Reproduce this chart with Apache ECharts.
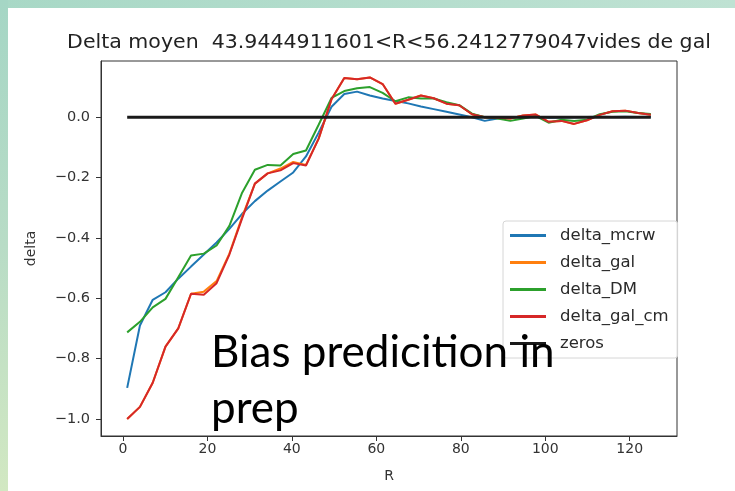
<!DOCTYPE html>
<html><head><meta charset="utf-8">
<script src="https://cdn.jsdelivr.net/npm/echarts@6/dist/echarts.min.js"></script>
<style>html,body{margin:0;padding:0;background:#fff}#c{width:735px;height:491px}</style>
</head><body><div id="c"></div>
<script>
const R = [1.00,4.02,7.05,10.07,13.10,16.12,19.15,22.17,25.20,28.22,31.24,34.27,37.29,40.32,43.34,46.37,49.39,52.41,55.44,58.46,61.49,64.51,67.54,70.56,73.59,76.61,79.63,82.66,85.68,88.71,91.73,94.76,97.78,100.80,103.83,106.85,109.88,112.90,115.93,118.95,121.98,125.00];
const deltaMcrw = [-0.897,-0.69,-0.605,-0.58,-0.535,-0.495,-0.455,-0.415,-0.37,-0.32,-0.278,-0.243,-0.213,-0.183,-0.13,-0.05,0.035,0.077,0.085,0.072,0.062,0.054,0.046,0.036,0.027,0.018,0.009,0.0,-0.012,-0.004,0.001,0.0,0.002,-0.002,-0.001,0.0,0.001,0.002,0.001,0.002,0.001,0.002];
const deltaGal = [-1.0,-0.96,-0.88,-0.76,-0.70,-0.585,-0.578,-0.543,-0.452,-0.33,-0.22,-0.186,-0.17,-0.148,-0.158,-0.07,0.06,0.13,0.126,0.132,0.11,0.045,0.058,0.072,0.063,0.045,0.04,0.01,0.0,-0.002,-0.004,0.006,0.009,-0.015,-0.012,-0.022,-0.01,0.008,0.02,0.022,0.014,0.008];
const deltaDM = [-0.713,-0.678,-0.63,-0.602,-0.53,-0.458,-0.452,-0.425,-0.36,-0.25,-0.174,-0.158,-0.16,-0.122,-0.11,-0.024,0.064,0.087,0.096,0.10,0.081,0.053,0.066,0.062,0.062,0.05,0.04,0.012,0.0,-0.004,-0.012,-0.004,0.004,-0.018,-0.008,-0.012,-0.008,0.01,0.018,0.02,0.014,0.011];
const deltaGalCm = [-1.0,-0.96,-0.88,-0.76,-0.70,-0.585,-0.588,-0.55,-0.455,-0.335,-0.22,-0.186,-0.176,-0.152,-0.16,-0.07,0.06,0.13,0.126,0.132,0.11,0.045,0.058,0.072,0.063,0.045,0.04,0.01,0.0,-0.002,-0.004,0.006,0.009,-0.015,-0.012,-0.022,-0.01,0.008,0.02,0.022,0.014,0.008];
const zeros = R.map(() => 0);
const xTicks = [0,20,40,60,80,100,120];
const yTicks = [-1.0,-0.8,-0.6,-0.4,-0.2,0.0];
const names = ['delta_mcrw','delta_gal','delta_DM','delta_gal_cm','zeros'];
const colors = ['#1f77b4','#ff7f0e','#2ca02c','#d62728','#1a1a1a'];
const titleText = 'Delta moyen  43.9444911601<R<56.2412779047vides de gal';

const pairs = arr => R.map((r, i) => [r, arr[i]]);
const seriesData = [deltaMcrw, deltaGal, deltaDM, deltaGalCm, zeros];
const font = 'DejaVu Sans';
const chart = echarts.init(document.getElementById('c'), null, {renderer: 'canvas'});
chart.setOption({
  backgroundColor: '#ffffff',
  animation: false,
  grid: {left: 101, right: 58, top: 61, bottom: 55, show: true, borderColor: '#333', borderWidth: 1, backgroundColor: 'transparent'},
  xAxis: {
    type: 'value', min: -5.2, max: 131.2,
    splitLine: {show: false},
    axisLine: {show: true, onZero: false, lineStyle: {color: '#333', width: 1}},
    axisTick: {show: true, customValues: xTicks, length: 5, lineStyle: {color: '#333'}},
    axisLabel: {customValues: xTicks, fontSize: 14, color: '#333', fontFamily: font, margin: 6},
    name: 'R', nameLocation: 'middle', nameGap: 33,
    nameTextStyle: {fontSize: 14, color: '#333', fontFamily: font}
  },
  yAxis: {
    type: 'value', min: -1.0565, max: 0.1865,
    splitLine: {show: false},
    axisLine: {show: true, onZero: false, lineStyle: {color: '#333', width: 1}},
    axisTick: {show: true, customValues: yTicks, length: 5, lineStyle: {color: '#333'}},
    axisLabel: {customValues: yTicks, fontSize: 14.5, color: '#333', fontFamily: font, margin: 11,
      formatter: v => v.toFixed(1).replace('-', '\u2212')},
    name: 'delta', nameLocation: 'middle', nameGap: 63,
    nameTextStyle: {fontSize: 14, color: '#333', fontFamily: font}
  },
  legend: {
    data: names, orient: 'vertical', left: 503, top: 221,
    icon: 'rect', itemWidth: 36, itemHeight: 3, itemGap: 10,
    padding: [6, 9, 6, 7],
    backgroundColor: 'rgba(255,255,255,0.85)', borderColor: '#d6d6d6', borderWidth: 1, borderRadius: 3,
    textStyle: {fontSize: 16.5, color: '#2a2a2a', fontFamily: font, lineHeight: 17, padding: [0, 0, 0, 9]}
  },
  series: names.map((n, k) => ({
    name: n, type: 'line', data: pairs(seriesData[k]), symbol: 'none',
    lineStyle: {color: colors[k], width: k === 4 ? 3 : 2}, itemStyle: {color: colors[k]},
    z: 2 + k
  })),
  graphic: [
    {type: 'rect', shape: {x: 0, y: 0, width: 735, height: 8}, z: -10,
      style: {fill: new echarts.graphic.LinearGradient(0, 0, 1, 0, [{offset: 0, color: '#a8d8c6'}, {offset: 1, color: '#bfe2d3'}])}},
    {type: 'rect', shape: {x: 0, y: 0, width: 8, height: 491}, z: -10,
      style: {fill: new echarts.graphic.LinearGradient(0, 0, 0, 1, [{offset: 0, color: '#a5d6c5'}, {offset: 0.5, color: '#b8dcc6'}, {offset: 1, color: '#d2e8c2'}])}},
    {type: 'text', x: 389, y: 43, z: 50, scaleX: 1.08,
      style: {text: titleText, font: '19px "DejaVu Sans"', fill: '#222', textAlign: 'center', textVerticalAlign: 'middle'}},
    {type: 'text', x: 211, y: 331, z: 100,
      style: {text: 'Bias predicition in', font: '44px Lato', fill: '#000', textAlign: 'left', textVerticalAlign: 'top'}},
    {type: 'text', x: 211, y: 387, z: 100,
      style: {text: 'prep', font: '44px Lato', fill: '#000', textAlign: 'left', textVerticalAlign: 'top'}}
  ]
});
</script></body></html>
